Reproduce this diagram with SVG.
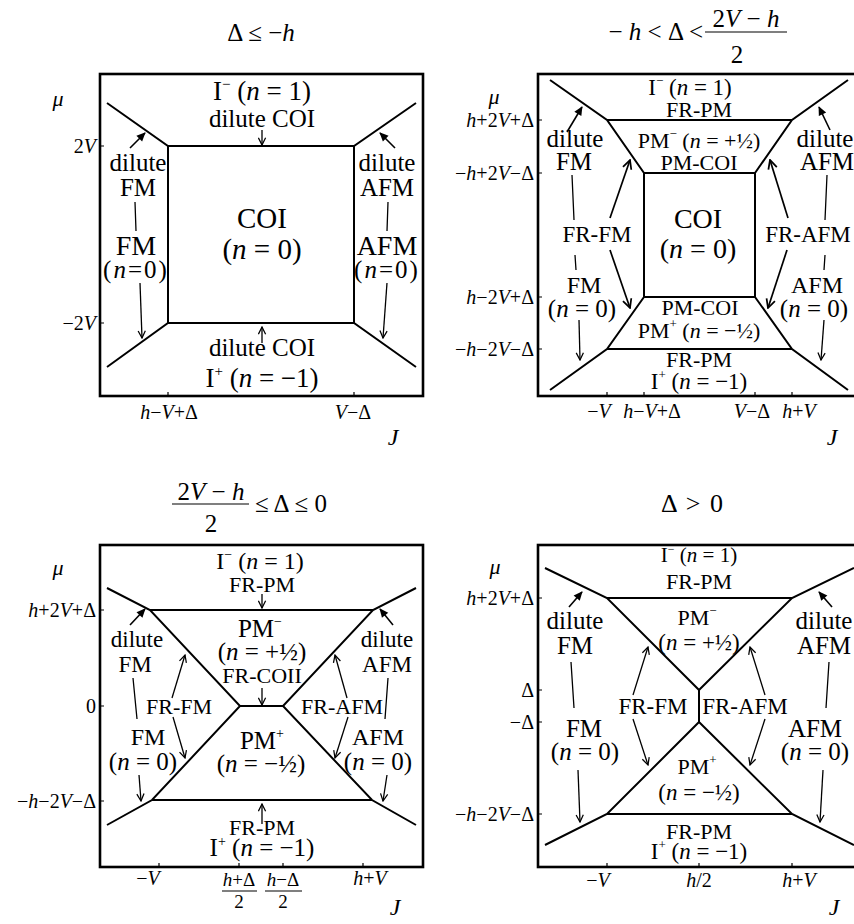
<svg xmlns="http://www.w3.org/2000/svg" width="854" height="924" viewBox="0 0 854 924">
<style>
text{font-family:"Liberation Serif","Times New Roman",serif;fill:#000}
.c{text-anchor:middle}
.r{text-anchor:end}
.i{font-style:italic}
.box{fill:none;stroke:#000;stroke-width:2.6}
.ph{fill:none;stroke:#000;stroke-width:2}
.ar{fill:none;stroke:#000;stroke-width:1.3;marker-end:url(#ah)}
.ab{fill:none;stroke:#000;stroke-width:1.7;marker-end:url(#ahb)}
.af{fill:none;stroke:#000;stroke-width:1.6;marker-end:url(#ahf)}
.ln{fill:none;stroke:#000;stroke-width:1.3}
.tk{stroke:#000;stroke-width:1.2}
.bar{stroke:#000;stroke-width:1.2}
.tl{font-size:20px}
.ttl{font-size:25px}
</style>
<defs>
<marker id="ah" viewBox="0 0 10 10" refX="9" refY="5" markerWidth="9" markerHeight="9" markerUnits="userSpaceOnUse" orient="auto"><path d="M1,1 L9,5 L1,9" fill="none" stroke="#000" stroke-width="1.4"/></marker>
<marker id="ahb" viewBox="0 0 10 10" refX="9" refY="5" markerWidth="11" markerHeight="11" markerUnits="userSpaceOnUse" orient="auto"><path d="M1,1 L9,5 L1,9" fill="none" stroke="#000" stroke-width="1.6"/></marker>
<marker id="ahf" viewBox="0 0 10 10" refX="9" refY="5" markerWidth="10" markerHeight="9" markerUnits="userSpaceOnUse" orient="auto"><path d="M0,0.5 L10,5 L0,9.5 z" fill="#000"/></marker>
</defs>

<!-- Panel 1 -->
<g id="panel1">
<text class="c ttl" x="261" y="41">Δ ≤ −<tspan class="i">h</tspan></text>
<rect class="box" x="100" y="74" width="323" height="322"/>
<path class="ph" d="M107,103 L168,146 L354,146 L416,103 M107,367 L168,323 L354,323 L416,367 M168,146 V323 M354,146 V323"/>
<path class="tk" d="M100,146 h4 M100,323 h4 M168,396 v-4 M354,396 v-4"/>
<text class="i" x="58" y="106" font-size="22" text-anchor="middle">μ</text>
<text class="r tl" x="96" y="153">2<tspan class="i">V</tspan></text>
<text class="r tl" x="96" y="330">−2<tspan class="i">V</tspan></text>
<text class="c tl" x="169" y="419"><tspan class="i">h</tspan>−<tspan class="i">V</tspan>+Δ</text>
<text class="c tl" x="353" y="419"><tspan class="i">V</tspan>−Δ</text>
<text class="i" x="393" y="445" font-size="24" text-anchor="middle">J</text>
<g id="p1-labels">
<text class="c" x="262" y="100" font-size="27">I<tspan font-size="15" dy="-11">−</tspan><tspan dy="11"> (</tspan><tspan class="i">n</tspan> = 1)</text>
<text class="c" x="262" y="127" font-size="25">dilute COI</text>
<text class="c" x="138" y="171" font-size="25">dilute</text>
<text class="c" x="138" y="196" font-size="25">FM</text>
<text class="c" x="387" y="171" font-size="25">dilute</text>
<text class="c" x="387" y="196" font-size="25">AFM</text>
<text class="c" x="262" y="228" font-size="29">COI</text>
<text class="c" x="262" y="259" font-size="29">(<tspan class="i">n</tspan> = 0)</text>
<text class="c" x="136" y="255" font-size="28">FM</text>
<text class="c" x="136" y="278" font-size="25" letter-spacing="2">(<tspan class="i">n</tspan>=0)</text>
<text class="c" x="387" y="255" font-size="28">AFM</text>
<text class="c" x="387" y="278" font-size="25" letter-spacing="2">(<tspan class="i">n</tspan>=0)</text>
<text class="c" x="262" y="356" font-size="25">dilute COI</text>
<text class="c" x="262" y="387" font-size="27">I<tspan font-size="15" dy="-11">+</tspan><tspan dy="11"> (</tspan><tspan class="i">n</tspan> = −1)</text>
</g>
</g>

<!-- Panel 2 -->
<g id="panel2">
<text class="r ttl" x="703" y="40">− <tspan class="i">h</tspan> &lt; Δ &lt;</text>
<text class="c ttl" x="746" y="27">2<tspan class="i">V</tspan> − <tspan class="i">h</tspan></text>
<line class="bar" x1="705" y1="32" x2="787" y2="32"/>
<text class="c ttl" x="737" y="63">2</text>
<rect class="box" x="538" y="74" width="323" height="322"/>
<path class="ph" d="M550,80 L607,120 L644,173 L644,297 L607,349 L550,390 M848,80 L792,120 L755,173 L755,297 L792,349 L848,390 M607,120 H792 M644,173 H755 M644,297 H755 M607,349 H792"/>
<path class="tk" d="M538,120 h4 M538,173 h4 M538,297 h4 M538,349 h4 M607,396 v-4 M644,396 v-4 M755,396 v-4 M792,396 v-4"/>
<text class="i" x="494" y="104" font-size="22" text-anchor="middle">μ</text>
<text class="r tl" x="534" y="127"><tspan class="i">h</tspan>+2<tspan class="i">V</tspan>+Δ</text>
<text class="r tl" x="534" y="180">−<tspan class="i">h</tspan>+2<tspan class="i">V</tspan>−Δ</text>
<text class="r tl" x="534" y="304"><tspan class="i">h</tspan>−2<tspan class="i">V</tspan>+Δ</text>
<text class="r tl" x="534" y="356">−<tspan class="i">h</tspan>−2<tspan class="i">V</tspan>−Δ</text>
<text class="c tl" x="599" y="418">−<tspan class="i">V</tspan></text>
<text class="c tl" x="652" y="418"><tspan class="i">h</tspan>−<tspan class="i">V</tspan>+Δ</text>
<text class="c tl" x="752" y="418"><tspan class="i">V</tspan>−Δ</text>
<text class="c tl" x="799" y="418"><tspan class="i">h</tspan>+<tspan class="i">V</tspan></text>
<text class="i" x="832" y="445" font-size="24" text-anchor="middle">J</text>
<g id="p2-labels">
<text class="c" x="690" y="95" font-size="23">I<tspan font-size="13" dy="-10">−</tspan><tspan dy="10"> (</tspan><tspan class="i">n</tspan> = 1)</text>
<text class="c" x="699" y="117" font-size="22">FR-PM</text>
<text class="c" x="699" y="148" font-size="22">PM<tspan font-size="13" dy="-10">−</tspan><tspan dy="10"> (</tspan><tspan class="i">n</tspan> = +½)</text>
<text class="c" x="699" y="170" font-size="22">PM-COI</text>
<text class="c" x="575" y="147" font-size="25">dilute</text>
<text class="c" x="574" y="170" font-size="25">FM</text>
<text class="c" x="825" y="147" font-size="25">dilute</text>
<text class="c" x="827" y="170" font-size="25">AFM</text>
<text class="c" x="597" y="242" font-size="23">FR-FM</text>
<text class="c" x="808" y="242" font-size="23">FR-AFM</text>
<text class="c" x="698" y="228" font-size="28">COI</text>
<text class="c" x="698" y="258" font-size="28">(<tspan class="i">n</tspan> = 0)</text>
<text class="c" x="584" y="293" font-size="24">FM</text>
<text class="c" x="582" y="317" font-size="25">(<tspan class="i">n</tspan> = 0)</text>
<text class="c" x="817" y="293" font-size="24">AFM</text>
<text class="c" x="814" y="317" font-size="25">(<tspan class="i">n</tspan> = 0)</text>
<text class="c" x="700" y="315" font-size="22">PM-COI</text>
<text class="c" x="699" y="338" font-size="22">PM<tspan font-size="13" dy="-10">+</tspan><tspan dy="10"> (</tspan><tspan class="i">n</tspan> = −½)</text>
<text class="c" x="699" y="367" font-size="22">FR-PM</text>
<text class="c" x="699" y="389" font-size="23">I<tspan font-size="13" dy="-10">+</tspan><tspan dy="10"> (</tspan><tspan class="i">n</tspan> = −1)</text>
</g>
</g>

<!-- Panel 3 -->
<g id="panel3">
<text class="c ttl" x="211" y="500">2<tspan class="i">V</tspan> − <tspan class="i">h</tspan></text>
<line class="bar" x1="172" y1="504" x2="249" y2="504"/>
<text class="c ttl" x="211" y="532">2</text>
<text class="ttl" x="255" y="512">≤ Δ ≤ 0</text>
<rect class="box" x="100" y="545" width="323" height="322"/>
<path class="ph" d="M107,588 L150,610 L240,706 L152,800 L107,825 M416,588 L373,610 L283,706 L372,800 L416,825 M150,610 H373 M240,706 H283 M152,800 H372"/>
<path class="tk" d="M100,610 h4 M100,706 h4 M100,801 h4 M159,867 v-4 M239,867 v-4 M283,867 v-4 M363,867 v-4"/>
<text class="i" x="58" y="575" font-size="22" text-anchor="middle">μ</text>
<text class="r tl" x="96" y="617"><tspan class="i">h</tspan>+2<tspan class="i">V</tspan>+Δ</text>
<text class="r tl" x="96" y="713">0</text>
<text class="r tl" x="96" y="808">−<tspan class="i">h</tspan>−2<tspan class="i">V</tspan>−Δ</text>
<text class="c tl" x="148" y="885">−<tspan class="i">V</tspan></text>
<text class="c" x="239" y="886" font-size="19"><tspan class="i">h</tspan>+Δ</text>
<line class="bar" x1="222" y1="891" x2="257" y2="891"/>
<text class="c" x="239" y="908" font-size="19">2</text>
<text class="c" x="283" y="886" font-size="19"><tspan class="i">h</tspan>−Δ</text>
<line class="bar" x1="265" y1="891" x2="302" y2="891"/>
<text class="c" x="283" y="908" font-size="19">2</text>
<text class="c tl" x="370" y="885"><tspan class="i">h</tspan>+<tspan class="i">V</tspan></text>
<text class="i" x="395" y="915" font-size="24" text-anchor="middle">J</text>
<g id="p3-labels">
<text class="c" x="260" y="569" font-size="24">I<tspan font-size="14" dy="-10">−</tspan><tspan dy="10"> (</tspan><tspan class="i">n</tspan> = 1)</text>
<text class="c" x="262" y="592" font-size="22">FR-PM</text>
<text class="c" x="260" y="637" font-size="25">PM<tspan font-size="14" dy="-11">−</tspan></text>
<text class="c" x="262" y="660" font-size="25">(<tspan class="i">n</tspan> = +½)</text>
<text class="c" x="262" y="683" font-size="22">FR-COII</text>
<text class="c" x="137" y="647" font-size="23">dilute</text>
<text class="c" x="135" y="672" font-size="23">FM</text>
<text class="c" x="387" y="647" font-size="23">dilute</text>
<text class="c" x="387" y="672" font-size="23">AFM</text>
<text class="c" x="179" y="714" font-size="22">FR-FM</text>
<text class="c" x="342" y="714" font-size="22">FR-AFM</text>
<text class="c" x="148" y="745" font-size="24">FM</text>
<text class="c" x="143" y="770" font-size="25">(<tspan class="i">n</tspan> = 0)</text>
<text class="c" x="378" y="745" font-size="24">AFM</text>
<text class="c" x="378" y="770" font-size="25">(<tspan class="i">n</tspan> = 0)</text>
<text class="c" x="262" y="749" font-size="25">PM<tspan font-size="14" dy="-11">+</tspan></text>
<text class="c" x="261" y="772" font-size="25">(<tspan class="i">n</tspan> = −½)</text>
<text class="c" x="262" y="835" font-size="22">FR-PM</text>
<text class="c" x="262" y="856" font-size="25">I<tspan font-size="14" dy="-10">+</tspan><tspan dy="10"> (</tspan><tspan class="i">n</tspan> = −1)</text>
</g>
</g>

<!-- Panel 4 -->
<g id="panel4">
<text class="c" x="692" y="512" font-size="26" word-spacing="3">Δ &gt; 0</text>
<rect class="box" x="538" y="545" width="323" height="322"/>
<path class="ph" d="M545,568 L607,598 L699,690 L699,722 L607,814 L545,845 M854,568 L792,598 L699,690 M699,722 L792,814 L854,845 M607,598 H792 M607,814 H792"/>
<path class="tk" d="M538,598 h4 M538,690 h4 M538,722 h4 M538,814 h4 M607,867 v-4 M699,867 v-4 M792,867 v-4"/>
<text class="i" x="495" y="574" font-size="22" text-anchor="middle">μ</text>
<text class="r tl" x="534" y="605"><tspan class="i">h</tspan>+2<tspan class="i">V</tspan>+Δ</text>
<text class="r tl" x="534" y="697">Δ</text>
<text class="r tl" x="534" y="729">−Δ</text>
<text class="r tl" x="534" y="821">−<tspan class="i">h</tspan>−2<tspan class="i">V</tspan>−Δ</text>
<text class="c tl" x="598" y="887">−<tspan class="i">V</tspan></text>
<text class="c tl" x="699" y="887"><tspan class="i">h</tspan>/2</text>
<text class="c tl" x="799" y="887"><tspan class="i">h</tspan>+<tspan class="i">V</tspan></text>
<text class="i" x="834" y="915" font-size="24" text-anchor="middle">J</text>
<g id="p4-labels">
<text class="c" x="699" y="562" font-size="21">I<tspan font-size="12" dy="-9">−</tspan><tspan dy="9"> (</tspan><tspan class="i">n</tspan> = 1)</text>
<text class="c" x="699" y="589" font-size="22">FR-PM</text>
<text class="c" x="697" y="625" font-size="22">PM<tspan font-size="13" dy="-10">−</tspan></text>
<text class="c" x="699" y="650" font-size="23">(<tspan class="i">n</tspan> = +½)</text>
<text class="c" x="575" y="629" font-size="25">dilute</text>
<text class="c" x="575" y="654" font-size="25">FM</text>
<text class="c" x="824" y="629" font-size="25">dilute</text>
<text class="c" x="824" y="654" font-size="25">AFM</text>
<text class="c" x="653" y="714" font-size="23">FR-FM</text>
<text class="c" x="745" y="714" font-size="23">FR-AFM</text>
<text class="c" x="584" y="737" font-size="25">FM</text>
<text class="c" x="585" y="760" font-size="25">(<tspan class="i">n</tspan> = 0)</text>
<text class="c" x="815" y="737" font-size="25">AFM</text>
<text class="c" x="815" y="760" font-size="25">(<tspan class="i">n</tspan> = 0)</text>
<text class="c" x="697" y="774" font-size="22">PM<tspan font-size="13" dy="-10">+</tspan></text>
<text class="c" x="699" y="800" font-size="23">(<tspan class="i">n</tspan> = −½)</text>
<text class="c" x="699" y="839" font-size="22">FR-PM</text>
<text class="c" x="699" y="859" font-size="23">I<tspan font-size="13" dy="-10">+</tspan><tspan dy="10"> (</tspan><tspan class="i">n</tspan> = −1)</text>
</g>
</g>

<!-- Connectors -->
<g id="connectors">
<!-- panel 1 -->
<path class="ar" d="M262,130 L262,145"/>
<path class="af" d="M130,148 L145,133"/>
<path class="af" d="M395,148 L380,133"/>
<path class="ln" d="M135,202 L136,231 M388,202 L387,231"/>
<path class="ar" d="M140,283 L142,338"/>
<path class="ar" d="M387,283 L383,338"/>
<path class="ar" d="M262,343 L262,327"/>
<!-- panel 2 -->
<path class="af" d="M567,132 L582,107"/>
<path class="af" d="M830,130 L819,107"/>
<path class="ln" d="M572,175 L574,220 M827,175 L825,220 M575,255 L576,270 M825,255 L824,270"/>
<path class="ab" d="M610,218 L630,160"/>
<path class="ab" d="M610,250 L630,308"/>
<path class="ab" d="M788,218 L770,160"/>
<path class="ab" d="M787,250 L768,308"/>
<path class="ar" d="M579,320 L580,360"/>
<path class="ar" d="M824,320 L821,360"/>
<!-- panel 3 -->
<path class="ar" d="M262,594 L262,608"/>
<path class="ar" d="M262,688 L262,705"/>
<path class="af" d="M130,625 L145,609"/>
<path class="af" d="M393,625 L380,609"/>
<path class="ln" d="M133,678 L137,719 M388,678 L385,719"/>
<path class="ar" d="M172,698 L185,655"/>
<path class="ar" d="M173,717 L185,758"/>
<path class="ar" d="M347,698 L335,655"/>
<path class="ar" d="M348,717 L335,758"/>
<path class="ar" d="M139,775 L141,801"/>
<path class="ar" d="M387,775 L383,801"/>
<path class="ar" d="M262,824 L262,804"/>
<!-- panel 4 -->
<path class="af" d="M569,607 L582,592"/>
<path class="af" d="M832,607 L819,592"/>
<path class="ln" d="M571,662 L574,708 M829,662 L826,708"/>
<path class="ar" d="M633,695 L648,647"/>
<path class="ar" d="M633,719 L648,765"/>
<path class="ar" d="M765,695 L750,647"/>
<path class="ar" d="M765,719 L750,765"/>
<path class="ar" d="M578,770 L580,822"/>
<path class="ar" d="M823,770 L820,822"/>
</g>
</svg>
